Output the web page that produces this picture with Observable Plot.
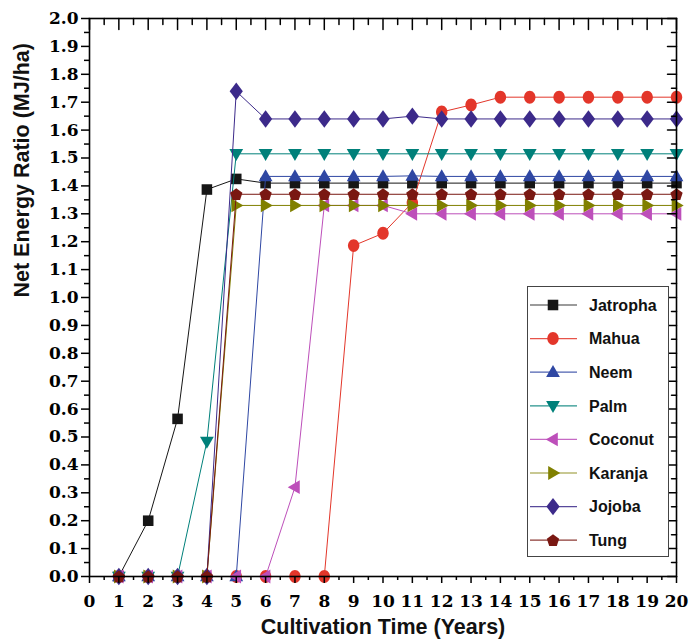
<!DOCTYPE html>
<html><head><meta charset="utf-8">
<script src="https://cdn.jsdelivr.net/npm/d3@7"></script>
<script src="https://cdn.jsdelivr.net/npm/@observablehq/plot@0.6"></script>
<style>
html,body{margin:0;padding:0;background:#fff;}
#wrap{position:relative;width:689px;height:641px;}
#legend{position:absolute;left:527px;top:286px;}
</style></head><body><div id="wrap"></div>
<script>
// ---- data ----
const years = [1,2,3,4,5,6,7,8,9,10,11,12,13,14,15,16,17,18,19,20];
const seriesNames = ["Jatropha","Mahua","Neem","Palm","Coconut","Karanja","Jojoba","Tung"];
const jatropha = [0,0.20,0.565,1.387,1.425,1.41,1.41,1.41,1.41,1.41,1.41,1.41,1.41,1.41,1.41,1.41,1.41,1.41,1.41,1.41];
const mahua    = [0,0,0,0,0,0,0,0,1.186,1.23,1.34,1.665,1.69,1.718,1.718,1.718,1.718,1.718,1.718,1.718];
const neem     = [0,0,0,0,0,1.434,1.434,1.434,1.434,1.434,1.436,1.434,1.434,1.434,1.434,1.434,1.434,1.434,1.434,1.434];
const palm     = [0,0,0,0.484,1.515,1.515,1.515,1.515,1.515,1.515,1.515,1.515,1.515,1.515,1.515,1.515,1.515,1.515,1.515,1.515];
const coconut  = [0,0,0,0,0,0,0.32,1.33,1.33,1.33,1.30,1.30,1.30,1.30,1.30,1.30,1.30,1.30,1.30,1.30];
const karanja  = [0,0,0,0,1.33,1.33,1.33,1.33,1.33,1.33,1.33,1.33,1.33,1.33,1.33,1.33,1.33,1.33,1.33,1.33];
const jojoba   = [0,0,0,0,1.739,1.64,1.64,1.64,1.64,1.64,1.65,1.64,1.64,1.64,1.64,1.64,1.64,1.64,1.64,1.64];
const tung     = [0,0,0,0,1.37,1.37,1.37,1.37,1.37,1.37,1.37,1.37,1.37,1.37,1.37,1.37,1.37,1.37,1.37,1.37];
const seriesValues = [jatropha,mahua,neem,palm,coconut,karanja,jojoba,tung];
const seriesColors = ["#161616","#e3362a","#2f47a3","#00807a","#bd4fba","#808000","#3c2a8a","#7a1812"];
const xTickLabels = [0,1,2,3,4,5,6,7,8,9,10,11,12,13,14,15,16,17,18,19,20];
const xMinorTicks = [0.5,1.5,2.5,3.5,4.5,5.5,6.5,7.5,8.5,9.5,10.5,11.5,12.5,13.5,14.5,15.5,16.5,17.5,18.5,19.5];
const yTickLabels = [0,0.1,0.2,0.3,0.4,0.5,0.6,0.7,0.8,0.9,1.0,1.1,1.2,1.3,1.4,1.5,1.6,1.7,1.8,1.9,2.0];
const yMinorTicks = [0.05,0.15,0.25,0.35,0.45,0.55,0.65,0.75,0.85,0.95,1.05,1.15,1.25,1.35,1.45,1.55,1.65,1.75,1.85,1.95];
const xTitle = "Cultivation Time (Years)";
const yTitle = "Net Energy Ratio (MJ/ha)";

// ---- marker shapes (unit r from size) ----
function poly(pts){ return {draw(ctx, size){ const r = Math.sqrt(size/Math.PI); ctx.moveTo(pts[0][0]*r, pts[0][1]*r); for (let i=1;i<pts.length;i++) ctx.lineTo(pts[i][0]*r, pts[i][1]*r); ctx.closePath(); }}; }
const pent = d3.range(5).map(i => { const a = -Math.PI/2 + i*2*Math.PI/5; return [1.08*Math.cos(a), 1.08*Math.sin(a)+0.08]; });
const ellipse = {draw(ctx, size){ const r = Math.sqrt(size/Math.PI); const rx=0.95*r, ry=1.08*r, k=0.5523; ctx.moveTo(rx,0); ctx.bezierCurveTo(rx,ry*k,rx*k,ry,0,ry); ctx.bezierCurveTo(-rx*k,ry,-rx,ry*k,-rx,0); ctx.bezierCurveTo(-rx,-ry*k,-rx*k,-ry,0,-ry); ctx.bezierCurveTo(rx*k,-ry,rx,-ry*k,rx,0); ctx.closePath(); }};
const seriesSymbols = [
  poly([[-0.88,-0.88],[0.88,-0.88],[0.88,0.88],[-0.88,0.88]]),
  ellipse,
  poly([[0,-1.2],[1.15,0.8],[-1.15,0.8]]),
  poly([[0,1.2],[1.15,-0.8],[-1.15,-0.8]]),
  poly([[-1.2,0],[0.8,-1.15],[0.8,1.15]]),
  poly([[1.2,0],[-0.8,-1.15],[-0.8,1.15]]),
  poly([[0,-1.45],[1.1,0],[0,1.45],[-1.1,0]]),
  poly(pent)
];
const tickShape = {draw(ctx, l){ ctx.moveTo(0,0); ctx.lineTo(0,-l); }};

const rows = seriesNames.map((name,i) => years.map((y,j) => ({name, year:y, value: seriesValues[i][j]})));

const marks = [];
rows.forEach((data,i) => {
  marks.push(Plot.line(data, {x:"year", y:"value", stroke: seriesColors[i], strokeWidth: 1}));
  marks.push(Plot.dot(data, {x:"year", y:"value", r: 6, symbol: seriesSymbols[i], fill: seriesColors[i], stroke: "none"}));
});

const axisFont = {fontFamily: "DejaVu Serif", fontWeight: "bold", fontSize: 17};
const chart = Plot.plot({
  width: 689, height: 641,
  marginLeft: 89, marginRight: 13, marginTop: 18, marginBottom: 65,
  x: {domain: [0,20], label: null},
  y: {domain: [0,2], label: null},
  style: {background: "#fff", color: "#000", overflow: "visible"},
  marks: [
    ...marks,
    Plot.frame({stroke: "#000", strokeWidth: 1.6}),
    Plot.axisX(xTickLabels, {anchor: "bottom", tickSize: 7, tickPadding: 11, strokeWidth: 1.5, label: null, tickFormat: d => String(d), ...axisFont}),
    Plot.axisX(xMinorTicks, {anchor: "bottom", tickSize: 4, strokeWidth: 1.5, label: null, tickFormat: () => ""}),
    Plot.axisY(yTickLabels, {anchor: "left", tickSize: 8, tickPadding: 3, strokeWidth: 1.5, label: null, tickFormat: d => d.toFixed(1), ...axisFont}),
    Plot.axisY(yMinorTicks, {anchor: "left", tickSize: 5, strokeWidth: 1.5, label: null, tickFormat: () => ""}),
    Plot.vector(xTickLabels, {x: d => d, y: yTickLabels[yTickLabels.length-1], length: 11, rotate: 180, anchor: "start", shape: tickShape, stroke: "#000", strokeWidth: 1.5}),
    Plot.vector(xMinorTicks, {x: d => d, y: yTickLabels[yTickLabels.length-1], length: 6, rotate: 180, anchor: "start", shape: tickShape, stroke: "#000", strokeWidth: 1.5}),
    Plot.vector(yTickLabels, {y: d => d, x: xTickLabels[xTickLabels.length-1], length: 9, rotate: 270, anchor: "start", shape: tickShape, stroke: "#000", strokeWidth: 1.5}),
    Plot.vector(yMinorTicks, {y: d => d, x: xTickLabels[xTickLabels.length-1], length: 5, rotate: 270, anchor: "start", shape: tickShape, stroke: "#000", strokeWidth: 1.5}),
    Plot.text([xTitle], {frameAnchor: "bottom", dy: 57, text: d => d, fontFamily: "Liberation Sans", fontWeight: "bold", fontSize: 21.5, fill: "#111"}),
    Plot.text([yTitle], {frameAnchor: "left", dx: -67, rotate: -90, text: d => d, fontFamily: "Liberation Sans", fontWeight: "bold", fontSize: 21.5, fill: "#111"})
  ]
});
document.getElementById("wrap").appendChild(chart);

// ---- legend overlay ----
const lw = 142, lh = 271;
const leg = d3.select("#wrap").append("svg").attr("id","legend").attr("width", lw).attr("height", lh);
leg.append("rect").attr("x",0.5).attr("y",0.5).attr("width",lw-1).attr("height",lh-1).attr("fill","#fff").attr("stroke","#444").attr("stroke-width",1);
seriesNames.forEach((name,i) => {
  const cy = 19 + i*33.6;
  const g = leg.append("g");
  g.append("line").attr("x1",3).attr("x2",50).attr("y1",cy).attr("y2",cy).attr("stroke",seriesColors[i]).attr("stroke-width",1.2).attr("opacity",0.85);
  g.append("path").attr("transform",`translate(26,${cy})`).attr("d", d3.symbol().type(seriesSymbols[i]).size(Math.PI*36)()).attr("fill", seriesColors[i]);
  g.append("text").attr("x",62).attr("y",cy).attr("dy","0.36em").attr("font-family","Liberation Sans, Arial, sans-serif").attr("font-weight","bold").attr("font-size",16).attr("fill","#111").text(name);
});
</script></body></html>
